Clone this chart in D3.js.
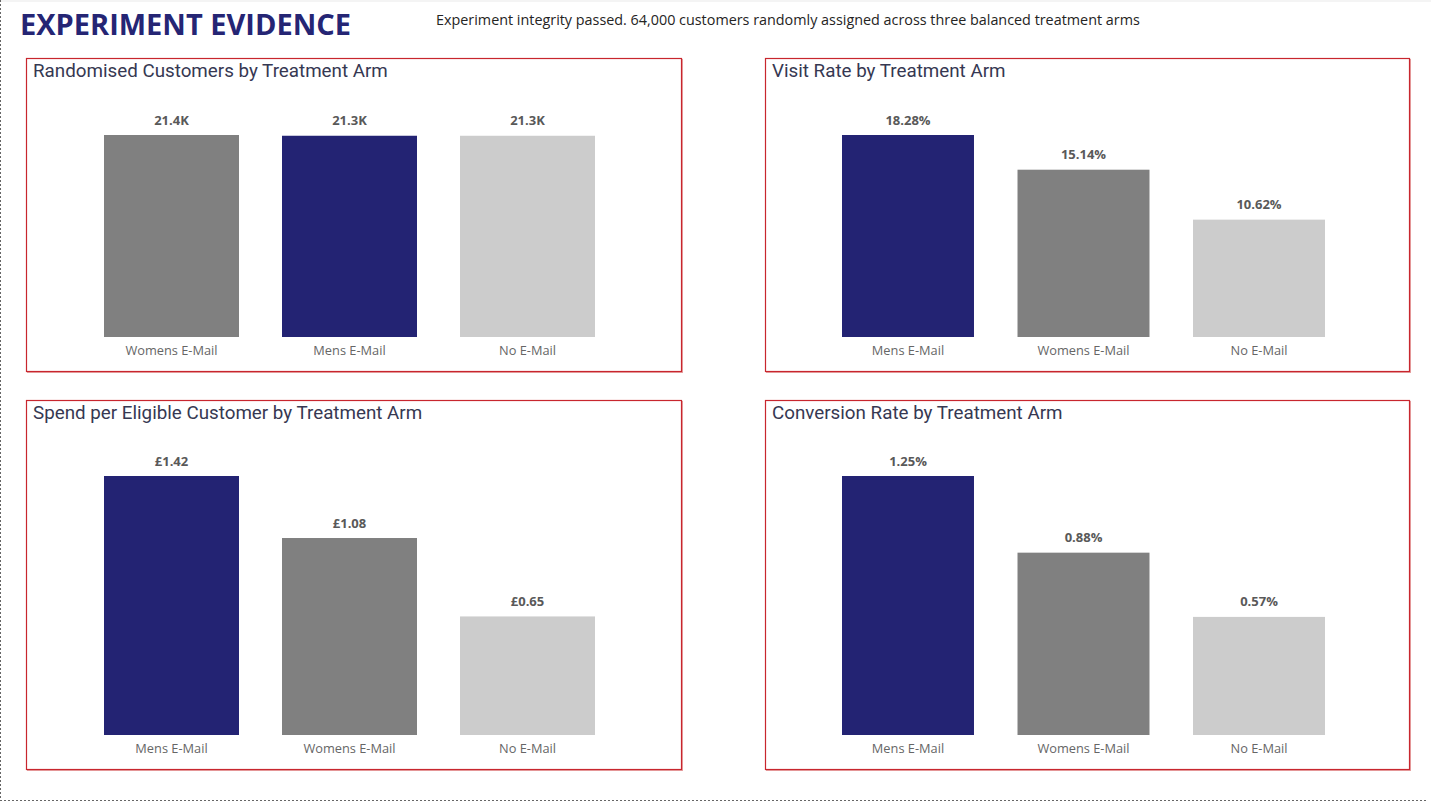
<!DOCTYPE html>
<html>
<head>
<meta charset="utf-8">
<script src="https://cdn.jsdelivr.net/npm/d3@7"></script>
<style>
  html, body { margin: 0; padding: 0; background: #fff; }
  svg { display: block; }
</style>
</head>
<body>
<div id="chart"></div>
<script>
// data
const customersArms = ["Womens E-Mail", "Mens E-Mail", "No E-Mail"];
const customersValues = [21387, 21307, 21306];

const visitArms = ["Mens E-Mail", "Womens E-Mail", "No E-Mail"];
const visitValues = [18.28, 15.14, 10.62];

const spendArms = ["Mens E-Mail", "Womens E-Mail", "No E-Mail"];
const spendValues = [1.42, 1.08, 0.65];

const conversionArms = ["Mens E-Mail", "Womens E-Mail", "No E-Mail"];
const conversionValues = [1.25, 0.88, 0.57];

const armColors = {
  "Mens E-Mail": "#232373",
  "Womens E-Mail": "#808080",
  "No E-Mail": "#cccccc"
};

const W = 1431, H = 802;

const svg = d3.select("#chart")
  .append("svg")
  .attr("width", W)
  .attr("height", H);

// page frame
svg.append("rect").attr("x", 0).attr("y", 0).attr("width", W).attr("height", 2).attr("fill", "#f4f4f4");
svg.append("line")
  .attr("x1", 0.5).attr("y1", 0).attr("x2", 0.5).attr("y2", 801)
  .attr("stroke", "#666").attr("stroke-dasharray", "2,2");
svg.append("line")
  .attr("x1", 0).attr("y1", 800.5).attr("x2", 1428).attr("y2", 800.5)
  .attr("stroke", "#666").attr("stroke-dasharray", "2,2");

// shrink/grow a text's font size so it spans the wanted width
function fitWidth(sel, target) {
  const node = sel.node();
  const size = parseFloat(sel.attr("font-size"));
  const len = node.getComputedTextLength();
  sel.attr("font-size", (size * target / len).toFixed(2));
}

const title = svg.append("text")
  .attr("x", 20).attr("y", 35)
  .attr("font-family", "'Open Sans', sans-serif")
  .attr("font-weight", 700)
  .attr("font-size", 30)
  .attr("fill", "#252574")
  .text("EXPERIMENT EVIDENCE");
fitWidth(title, 331);

const subtitle = svg.append("text")
  .attr("x", 436).attr("y", 25)
  .attr("font-family", "'Open Sans', sans-serif")
  .attr("font-size", 14)
  .attr("fill", "#252423")
  .text("Experiment integrity passed. 64,000 customers randomly assigned across three balanced treatment arms");
fitWidth(subtitle, 704);

const panels = [
  { title: "Randomised Customers by Treatment Arm", arms: customersArms, values: customersValues,
    fmt: d => d3.format(".1f")(d / 1000) + "K",
    box: [26, 58, 655, 313], xr: [104, 595], pad: 0.2416, yr: [337, 135] },
  { title: "Visit Rate by Treatment Arm", arms: visitArms, values: visitValues,
    fmt: d => d3.format(".2f")(d) + "%",
    box: [765, 58, 644, 313], xr: [842, 1325], pad: 0.248, yr: [337, 135] },
  { title: "Spend per Eligible Customer by Treatment Arm", arms: spendArms, values: spendValues,
    fmt: d => "£" + d3.format(".2f")(d),
    box: [26, 400, 655, 369], xr: [104, 595], pad: 0.2416, yr: [735, 476] },
  { title: "Conversion Rate by Treatment Arm", arms: conversionArms, values: conversionValues,
    fmt: d => d3.format(".2f")(d) + "%",
    box: [765, 400, 644, 369], xr: [842, 1325], pad: 0.248, yr: [735, 476] }
];

let titleSize = null;

panels.forEach((p, i) => {
  const [bx, by, bw, bh] = p.box;
  const g = svg.append("g");

  // border with a soft shadow edge
  g.append("rect")
    .attr("x", bx + 1.5).attr("y", by + 1.5).attr("width", bw).attr("height", bh)
    .attr("fill", "none").attr("stroke", "#e7a3a3").attr("stroke-width", 1);
  g.append("rect")
    .attr("x", bx + 0.5).attr("y", by + 0.5).attr("width", bw).attr("height", bh)
    .attr("fill", "#fff").attr("stroke", "#c8262e").attr("stroke-width", 1.2);

  const t = g.append("text")
    .attr("x", bx + 7).attr("y", by + 19)
    .attr("font-family", "Roboto, sans-serif")
    .attr("font-size", 18)
    .attr("fill", "#363852")
    .text(p.title);
  if (i === 0) {
    fitWidth(t, 355);
    titleSize = t.attr("font-size");
  } else {
    t.attr("font-size", titleSize);
  }

  const x = d3.scaleBand()
    .domain(p.arms)
    .range(p.xr)
    .paddingInner(p.pad)
    .paddingOuter(0);

  const y = d3.scaleLinear()
    .domain([0, d3.max(p.values)])
    .range(p.yr);

  const rows = p.arms.map((a, k) => ({ arm: a, value: p.values[k] }));

  g.selectAll("rect.bar")
    .data(rows)
    .enter()
    .append("rect")
    .attr("class", "bar")
    .attr("x", d => x(d.arm))
    .attr("y", d => y(d.value))
    .attr("width", x.bandwidth())
    .attr("height", d => y(0) - y(d.value))
    .attr("fill", d => armColors[d.arm]);

  g.selectAll("text.val")
    .data(rows)
    .enter()
    .append("text")
    .attr("class", "val")
    .attr("x", d => x(d.arm) + x.bandwidth() / 2)
    .attr("y", d => y(d.value) - 10.5)
    .attr("text-anchor", "middle")
    .attr("font-family", "'Open Sans', sans-serif")
    .attr("font-weight", 700)
    .attr("font-size", 13)
    .attr("fill", "#595959")
    .text(d => p.fmt(d.value));

  const axis = d3.axisBottom(x).tickSize(0).tickPadding(9);
  const ax = g.append("g")
    .attr("transform", "translate(0," + y(0) + ")")
    .call(axis);
  ax.select(".domain").remove();
  ax.selectAll("text")
    .attr("font-family", "'Open Sans', sans-serif")
    .attr("font-size", 12.8)
    .attr("fill", "#666");
});
</script>
</body>
</html>
